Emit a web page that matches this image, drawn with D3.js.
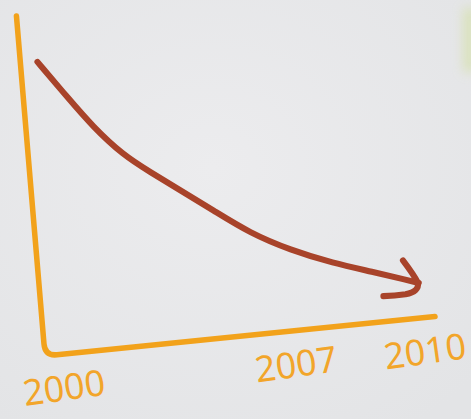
<!DOCTYPE html>
<html>
<head>
<meta charset="utf-8">
<script src="https://cdn.jsdelivr.net/npm/d3@7"></script>
<style>
  html, body { margin: 0; padding: 0; background: #e8e9eb; }
  svg { display: block; }
</style>
</head>
<body>
<svg id="chart" width="471" height="419"></svg>
<script>
// data
const years  = [2000, 2000.8, 2001.5, 2002.33, 2003.09, 2003.94, 2004.88, 2005.93, 2007.07, 2008.03, 2008.93, 2009.7, 2009.97];
const values = [86.0, 74.9, 65.4, 56.3, 50.6, 44.4, 37.6, 29.8, 23.7, 18.6, 14.9, 11.5, 10.3];
const tickYears = [2000, 2007, 2010];

const svg = d3.select("#chart");
const width = +svg.attr("width");
const height = +svg.attr("height");

// background
const defs = svg.append("defs");
const bg = defs.append("radialGradient").attr("id", "bg")
  .attr("cx", "45%").attr("cy", "40%").attr("r", "75%");
bg.append("stop").attr("offset", "0%").attr("stop-color", "#ececee");
bg.append("stop").attr("offset", "100%").attr("stop-color", "#e3e4e6");
defs.append("filter").attr("id", "blur")
  .attr("x", "-100%").attr("y", "-50%").attr("width", "300%").attr("height", "200%")
  .append("feGaussianBlur").attr("stdDeviation", 6);

svg.append("rect").attr("width", width).attr("height", height).attr("fill", "url(#bg)");
// green blur at the right edge of the photo
svg.append("rect")
  .attr("x", 464).attr("y", 8).attr("width", 12).attr("height", 64)
  .attr("fill", "#d3e0a0").attr("opacity", 0.7)
  .attr("filter", "url(#blur)");

// the sketch is slanted: axes are not square to the page
const shearB = -0.101, shearC = 0.084, originX = 45, originY = 356;
const toScreen = (lx, ly) => [originX + lx + shearC * ly, originY + shearB * lx + ly];

const axisTop = -340, axisRight = 390, corner = 12;

const x = d3.scaleLinear()
  .domain([2000, 2007, 2010])
  .range([17, 249, 378]);

const y = d3.scaleLinear()
  .domain([0, 100])
  .range([0, axisTop]);

const plot = svg.append("g")
  .attr("transform", `matrix(1,${shearB},${shearC},1,${originX},${originY})`);

// axes (one stroke, rounded corner)
const ax = d3.path();
ax.moveTo(0, y(100));
ax.lineTo(0, -corner);
ax.quadraticCurveTo(0, 0, corner, 0);
ax.lineTo(axisRight, 0);

plot.append("path")
  .attr("d", ax.toString())
  .attr("fill", "none")
  .attr("stroke", "#f2a21b")
  .attr("stroke-width", 5.5)
  .attr("stroke-linecap", "round")
  .attr("stroke-linejoin", "round");

// arrow head
defs.append("marker")
  .attr("id", "arrow")
  .attr("markerUnits", "userSpaceOnUse")
  .attr("viewBox", "-40 -25 50 55")
  .attr("refX", 0).attr("refY", 0)
  .attr("markerWidth", 50).attr("markerHeight", 55)
  .attr("orient", "auto")
  .append("path")
    .attr("d", "M-21,-18 Q-6,-6 -1,0 Q3,8 -10,14 Q-20,18 -31,21")
    .attr("fill", "none")
    .attr("stroke", "#a8432a")
    .attr("stroke-width", 6)
    .attr("stroke-linecap", "round")
    .attr("stroke-linejoin", "round");

const line = d3.line()
  .x(d => x(d[0]))
  .y(d => y(d[1]))
  .curve(d3.curveBasis);

plot.append("path")
  .datum(d3.zip(years, values))
  .attr("d", line)
  .attr("fill", "none")
  .attr("stroke", "#a8432a")
  .attr("stroke-width", 6)
  .attr("stroke-linecap", "round")
  .attr("marker-end", "url(#arrow)");

// year labels, written upright but tilted
svg.selectAll(".year")
  .data(tickYears)
  .enter()
  .append("text")
    .attr("class", "year")
    .attr("transform", d => {
      const p = toScreen(x(d), 46);
      return `translate(${p[0]},${p[1]}) rotate(-8)`;
    })
    .attr("text-anchor", "middle")
    .attr("font-family", "Noto Sans")
    .attr("font-size", 36)
    .attr("fill", "#f2a52a")
    .text(d => d);
</script>
</body>
</html>
